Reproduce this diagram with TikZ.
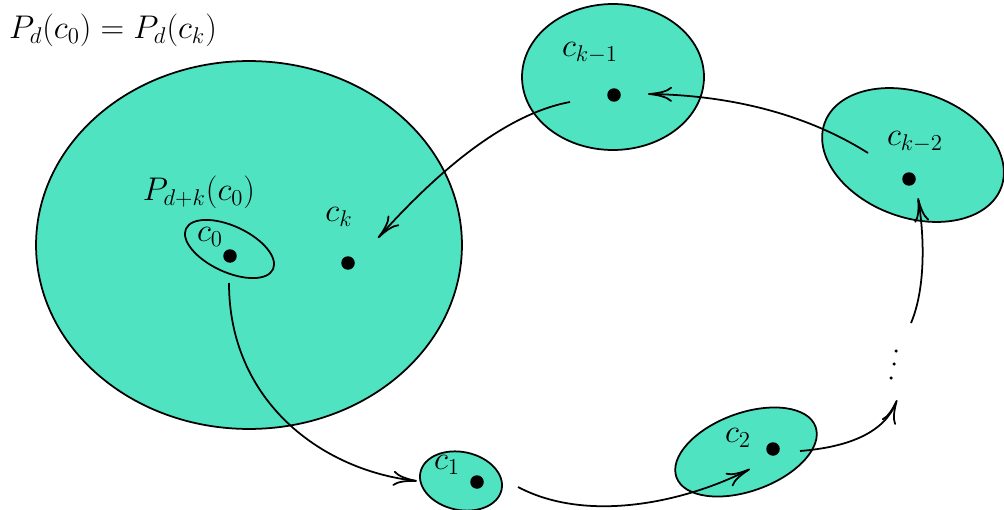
\documentclass[tikz,border=0pt]{standalone}
\usetikzlibrary{arrows.meta,shapes.geometric}

\definecolor{cellfill}{RGB}{80,227,194}

\tikzset{
  region/.style={ellipse, draw, line width=1pt, fill=cellfill, inner sep=0pt},
  point/.style={circle, fill=black, inner sep=0pt, minimum size=0.27cm},
  lbl/.style={font=\LARGE, scale=1.08},
  flow/.style={line width=1pt, -{To[length=4.8mm,width=3mm]}}
}

\begin{document}
\begin{tikzpicture}[x=0.02cm,y=-0.02cm]

        \useasboundingbox (0,0) rectangle (1004,510);

        % Draw the big region and the small one round c_0
        \node[region, minimum width=8.52cm, minimum height=7.36cm] (big) at (249,245) {};
        \node[region, minimum width=1.92cm, minimum height=0.92cm, rotate=-25] (r0) at (229.5,249) {};

        % Draw the other regions
        \node[region, minimum width=1.66cm, minimum height=1.16cm, rotate=-12] (r1) at (461,481) {};
        \node[region, minimum width=2.96cm, minimum height=1.56cm, rotate=20] (r2) at (746,452) {};
        \node[region, minimum width=3.76cm, minimum height=2.5cm, rotate=-20] (rkk) at (913,155) {};
        \node[region, minimum width=3.64cm, minimum height=2.92cm] (rk) at (613,77) {};

        % Label the regions
        \node[lbl] (eq) at (113,30) {$P_d(c_0)=P_d(c_k)$};
        \node[lbl] (pdk) at (199,192) {$P_{d+k}(c_0)$};

        % Points and their labels
        \node[point] (c0) at (230,256) {};
        \node[lbl] (l0) at (210,237) {$c_0$};
        \node[point] (ck) at (348,263) {};
        \node[lbl] (lk) at (339,217) {$c_k$};
        \node[point] (c1) at (477,482) {};
        \node[lbl] (l1) at (447,465) {$c_1$};
        \node[point] (c2) at (773,449) {};
        \node[lbl] (l2) at (738,438) {$c_2$};
        \node[point] (ckk) at (909,179) {};
        \node[lbl] (lkk) at (915,142) {$c_{k-2}$};
        \node[point] (ck1) at (614,95) {};
        \node[lbl] (lk1) at (590,53) {$c_{k-1}$};

        % Vertical dots
        \foreach \px/\py in {896/351, 894/364, 891/378}
          \fill (\px,\py) circle (0.035cm);

        % Ends of the curves
        \coordinate (s0) at (229,283);
        \coordinate (t1) at (417,481);
        \coordinate (s1) at (518,487);
        \coordinate (t2) at (750,469);
        \coordinate (s2) at (800,451);
        \coordinate (t3) at (897,400);
        \coordinate (s3) at (911,323);
        \coordinate (tkk) at (918,198);
        \coordinate (skk) at (868,153);
        \coordinate (tk1) at (648,94);
        \coordinate (sk1) at (570,102);
        \coordinate (tk) at (378,238);

        % Draw the curves
        \draw[flow] (s0) .. controls (229,400) and (320,470) .. (t1);
        \draw[flow] (s1) .. controls (590,525) and (690,500) .. (t2);
        \draw[flow] (s2) .. controls (850,447) and (885,432) .. (t3);
        \draw[flow] (s3) .. controls (925,290) and (925,240) .. (tkk);
        \draw[flow] (skk) .. controls (800,110) and (720,95) .. (tk1);
        \draw[flow] (sk1) .. controls (500,115) and (430,180) .. (tk);

\end{tikzpicture}
\end{document}
